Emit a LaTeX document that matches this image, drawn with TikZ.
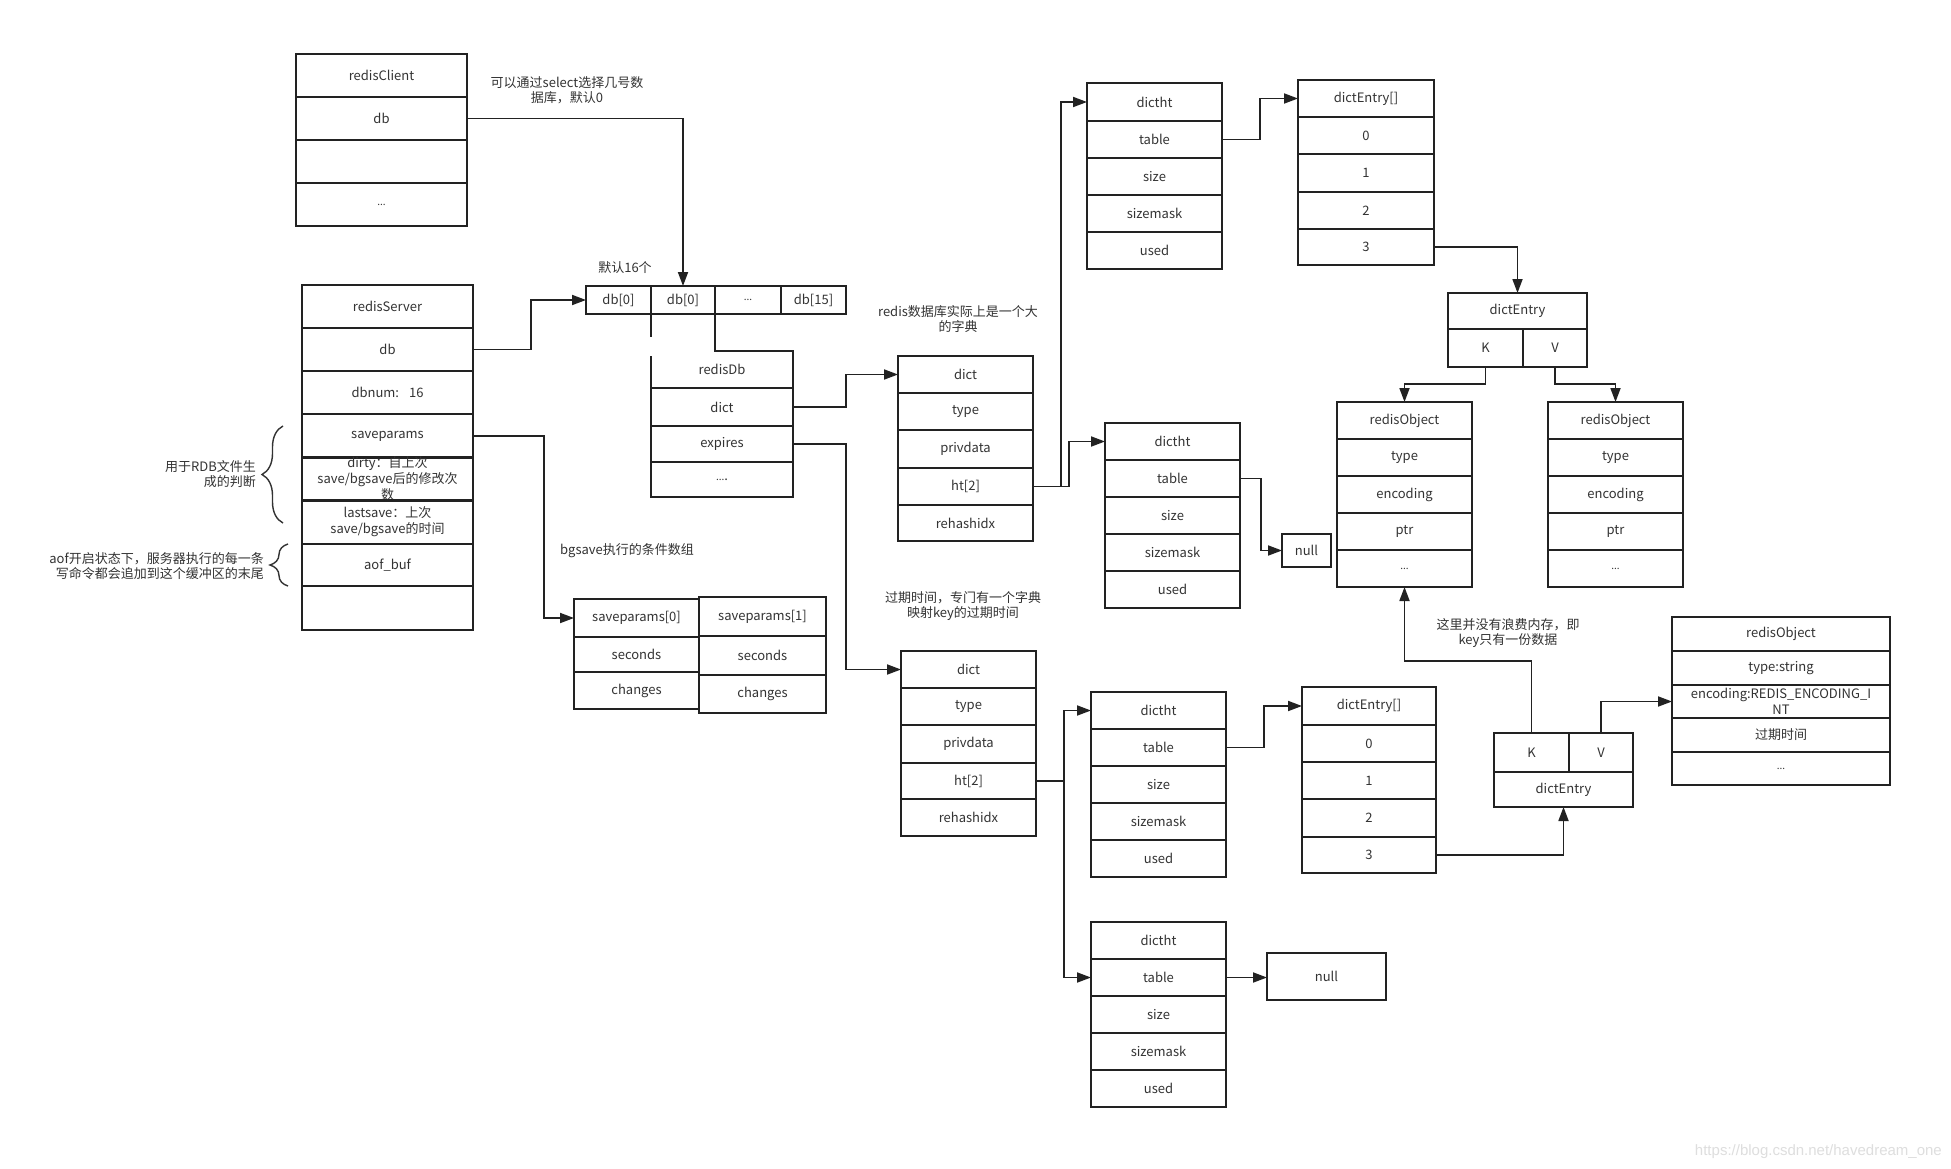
\documentclass[tikz,border=0pt]{standalone}
\usepackage{fontspec}
\setmainfont{Noto Sans CJK SC}
\newfontfamily\wmfont{Liberation Sans}
\usetikzlibrary{arrows.meta,decorations.pathreplacing}
\definecolor{linec}{HTML}{222222}
\definecolor{textc}{HTML}{333333}
\newcommand\cellfont{\fontsize{13}{16}\selectfont}
\newcommand\notefont{\fontsize{13}{15.5}\selectfont}
\newcommand\sdots{{\fontsize{10}{12}\selectfont ...}}
\newcommand\cellbox[6]{\node[cellst,minimum width={(#4-#2)*1pt},minimum height={(#5-#3)*1pt}] (#1) at ({(#2+#4)/2},{(#3+#5)/2}) {#6};}
\newcommand\cellboxnd[6]{\node[cellnd,minimum width={(#4-#2)*1pt},minimum height={(#5-#3)*1pt}] (#1) at ({(#2+#4)/2},{(#3+#5)/2}) {#6};}
\tikzset{
  cellst/.style={draw=linec,line width=1.8pt,inner sep=0pt,outer sep=0pt,font=\cellfont,text=textc,align=center},
  cellnd/.style={inner sep=0pt,outer sep=0pt,font=\cellfont,text=textc,align=center},
  arr/.style={draw=linec,line width=1.8pt,-{Triangle[length=14pt,width=10pt]}},
  ln/.style={draw=linec,line width=1.8pt},
  note/.style={inner sep=0pt,font=\notefont,text=textc,align=center},
  brc/.style={draw=textc,line width=1.4pt,decorate},
  wm/.style={inner sep=0pt,font=\wmfont\fontsize{15}{18}\selectfont,text=black!13}
}
\begin{document}
\begin{tikzpicture}[x=1pt,y=-1pt]
\fill[white] (0,0) rectangle (1951,1169);
\useasboundingbox (0,0) rectangle (1951,1169);

% redisClient
\cellbox{rc1}{296}{54}{467}{97}{redisClient}
\cellbox{rc2}{296}{97}{467}{140}{db}
\cellbox{rc3}{296}{140}{467}{183}{}
\cellbox{rc4}{296}{183}{467}{226}{\sdots}

% redisServer
\cellbox{rs1}{302}{285}{473}{328}{redisServer}
\cellbox{rs2}{302}{328}{473}{371}{db}
\cellbox{rs3}{302}{371}{473}{414}{dbnum:\hspace{10pt}16}
\cellbox{rs4}{302}{414}{473}{458}{saveparams}
\cellbox{rs5}{302}{458}{473}{500}{dirty：自上次\\save/bgsave后的修改次\\数}
\cellbox{rs6}{302}{500}{473}{544}{lastsave：上次\\save/bgsave的时间}
\cellbox{rs7}{302}{544}{473}{586}{aof\_buf}
\cellbox{rs8}{302}{586}{473}{630}{}

% db array
\cellbox{a1}{586}{286}{651}{314}{db[0]}
\cellbox{a2}{651}{286}{715}{314}{db[0]}
\cellbox{a3}{715}{286}{781}{314}{\sdots}
\cellbox{a4}{781}{286}{846}{314}{db[15]}

% redisDb
\cellboxnd{rd1}{651}{351}{793}{388}{redisDb}
\cellbox{rd2}{651}{388}{793}{426}{dict}
\cellbox{rd3}{651}{426}{793}{462}{expires}
\cellbox{rd4}{651}{462}{793}{497}{\sdots.}
\draw[ln] (a2.south east) -- (715,351) -- (793,351) -- (793,388);
\draw[ln] (a2.south west) -- (651,337);
\draw[ln] (651,356) -- (651,388);

% saveparams
\cellbox{sp0a}{574}{599}{699}{637}{saveparams[0]}
\cellbox{sp0b}{574}{637}{699}{672}{seconds}
\cellbox{sp0c}{574}{672}{699}{709}{changes}
\cellbox{sp1a}{699}{597}{826}{636}{saveparams[1]}
\cellbox{sp1b}{699}{636}{826}{675}{seconds}
\cellbox{sp1c}{699}{675}{826}{713}{changes}

% dict 1
\cellbox{d1a}{898}{356}{1033}{393}{dict}
\cellbox{d1b}{898}{393}{1033}{430}{type}
\cellbox{d1c}{898}{430}{1033}{468}{privdata}
\cellbox{d1d}{898}{468}{1033}{505}{ht[2]}
\cellbox{d1e}{898}{505}{1033}{541}{rehashidx}

% dict 2
\cellbox{d2a}{901}{651}{1036}{688}{dict}
\cellbox{d2b}{901}{688}{1036}{725}{type}
\cellbox{d2c}{901}{725}{1036}{763}{privdata}
\cellbox{d2d}{901}{763}{1036}{799}{ht[2]}
\cellbox{d2e}{901}{799}{1036}{836}{rehashidx}

% dictht top
\cellbox{T1}{1087}{83}{1222}{121}{dictht}
\cellbox{T2}{1087}{121}{1222}{158}{table}
\cellbox{T3}{1087}{158}{1222}{195}{size}
\cellbox{T4}{1087}{195}{1222}{232}{sizemask}
\cellbox{T5}{1087}{232}{1222}{269}{used}

% dictht mid
\cellbox{M1}{1105}{423}{1240}{460}{dictht}
\cellbox{M2}{1105}{460}{1240}{497}{table}
\cellbox{M3}{1105}{497}{1240}{534}{size}
\cellbox{M4}{1105}{534}{1240}{571}{sizemask}
\cellbox{M5}{1105}{571}{1240}{608}{used}

% dictht bottom 1
\cellbox{B1a}{1091}{692}{1226}{729}{dictht}
\cellbox{B1b}{1091}{729}{1226}{766}{table}
\cellbox{B1c}{1091}{766}{1226}{803}{size}
\cellbox{B1d}{1091}{803}{1226}{840}{sizemask}
\cellbox{B1e}{1091}{840}{1226}{877}{used}

% dictht bottom 2
\cellbox{B2a}{1091}{922}{1226}{959}{dictht}
\cellbox{B2b}{1091}{959}{1226}{996}{table}
\cellbox{B2c}{1091}{996}{1226}{1033}{size}
\cellbox{B2d}{1091}{1033}{1226}{1070}{sizemask}
\cellbox{B2e}{1091}{1070}{1226}{1107}{used}

% dictEntry[] top
\cellbox{E1}{1298}{80}{1434}{117}{dictEntry[]}
\cellbox{E2}{1298}{117}{1434}{154}{0}
\cellbox{E3}{1298}{154}{1434}{192}{1}
\cellbox{E4}{1298}{192}{1434}{229}{2}
\cellbox{E5}{1298}{229}{1434}{265}{3}

% dictEntry[] bottom
\cellbox{Eb1}{1302}{687}{1436}{725}{dictEntry[]}
\cellbox{Eb2}{1302}{725}{1436}{762}{0}
\cellbox{Eb3}{1302}{762}{1436}{799}{1}
\cellbox{Eb4}{1302}{799}{1436}{837}{2}
\cellbox{Eb5}{1302}{837}{1436}{873}{3}

% dictEntry top
\cellbox{de1}{1448}{293}{1587}{329}{dictEntry}
\cellbox{deK}{1448}{329}{1523}{367}{K}
\cellbox{deV}{1523}{329}{1587}{367}{V}

% dictEntry bottom
\cellbox{dbK}{1494}{733}{1569}{772}{K}
\cellbox{dbV}{1569}{733}{1633}{772}{V}
\cellbox{db2}{1494}{772}{1633}{807}{dictEntry}

% redisObject K
\cellbox{roK1}{1337}{402}{1472}{439}{redisObject}
\cellbox{roK2}{1337}{439}{1472}{476}{type}
\cellbox{roK3}{1337}{476}{1472}{513}{encoding}
\cellbox{roK4}{1337}{513}{1472}{550}{ptr}
\cellbox{roK6}{1337}{550}{1472}{587}{\sdots}

% redisObject V
\cellbox{roV1}{1548}{402}{1683}{439}{redisObject}
\cellbox{roV2}{1548}{439}{1683}{476}{type}
\cellbox{roV3}{1548}{476}{1683}{513}{encoding}
\cellbox{roV4}{1548}{513}{1683}{550}{ptr}
\cellbox{roV5}{1548}{550}{1683}{587}{\sdots}

% redisObject 3
\cellbox{ro3a}{1672}{617}{1890}{651}{redisObject}
\cellbox{ro3b}{1672}{651}{1890}{685}{type:string}
\cellbox{ro3c}{1672}{685}{1890}{718}{encoding:REDIS\_ENCODING\_I\\NT}
\cellbox{ro3d}{1672}{718}{1890}{752}{过期时间}
\cellbox{ro3e}{1672}{752}{1890}{785}{\sdots}

% null boxes
\cellbox{null1}{1282}{534}{1331}{567}{null}
\cellbox{null2}{1267}{953}{1386}{1000}{null}

% connectors
\draw[arr] (rc2.east) -| (a2.north);
\draw[arr] (rs2.east) -- ++(58,0) |- (a1.west);
\draw[arr] (rs4.east) -- ++(71,0) |- (sp0a.west);
\draw[arr] (rd2.east) -- ++(53,0) |- (d1a.west);
\draw[arr] (rd3.east) -- ++(53,0) |- (d2a.west);
\draw[arr] (d1d.east) -- ++(28,0) |- (T1.west);
\draw[arr] (d1d.east) -- ++(36,0) |- (M1.west);
\draw[arr] (T2.east) -- ++(38,0) |- (E1.west);
\draw[arr] (E5.east) -| (de1.north);
\draw[arr] (deK.south) -- ++(0,17) -| (roK1.north);
\draw[arr] (deV.south) -- ++(0,17) -| (roV1.north);
\draw[arr] (M2.east) -- ++(21,0) |- (null1.west);
\draw[arr] (d2d.east) -- ++(28,0) |- (B1a.west);
\draw[arr] (d2d.east) -- ++(28,0) |- (B2b.west);
\draw[arr] (B1b.east) -- ++(38,0) |- (Eb1.west);
\draw[arr] (B2b.east) -- (B2b.east -| null2.west);
\draw[arr] (Eb5.east) -| (db2.south);
\draw[arr] (dbK.north) -- ++(0,-72) -| (roK6.south);
\draw[arr] (dbV.north) |- (ro3c.west);

% notes
\node[note] (n1) at (567,90) {可以通过select选择几号数\\据库，默认0};
\node[note] (n2) at (625,268) {默认16个};
\node[note] (n3) at (958,319) {redis数据库实际上是一个大\\的字典};
\node[note,anchor=west] (n4) at (560,551) {bgsave执行的条件数组};
\node[note] (n5) at (963,606) {过期时间，专门有一个字典\\映射key的过期时间};
\node[note] (n6) at (1508,633) {这里并没有浪费内存，即\\key只有一份数据};
\node[note,align=right,anchor=east] (n7) at (256,474) {用于RDB文件生\\成的判断};
\node[note,align=right,anchor=east] (n8) at (264,566) {aof开启状态下，服务器执行的每一条\\写命令都会追加到这个缓冲区的末尾};

% braces
\draw[brc,decoration={brace,amplitude=21pt}] (283,523) -- (283,426);
\draw[brc,decoration={brace,amplitude=18pt}] (288,586) -- (288,544);

% watermark
\node[wm,anchor=east] (wm) at (1942,1152) {https://blog.csdn.net/havedream\_one};
\end{tikzpicture}
\end{document}
